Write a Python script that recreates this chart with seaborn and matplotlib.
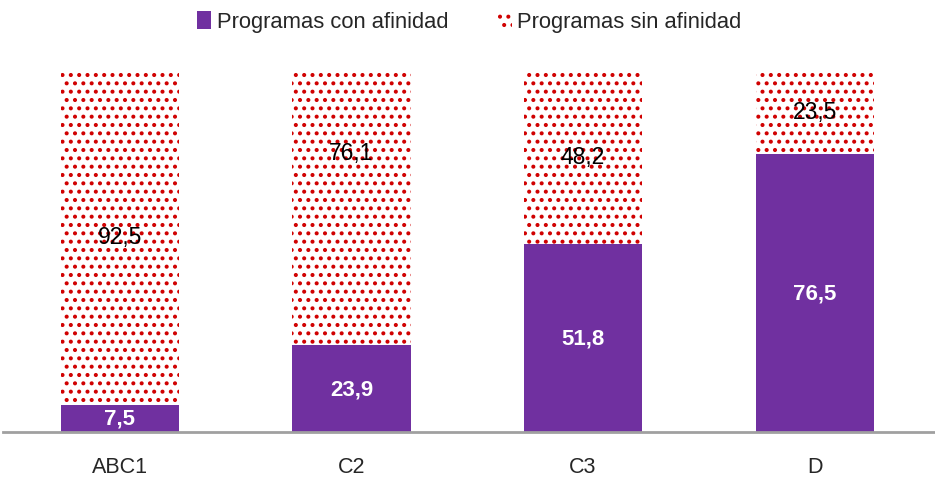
import matplotlib
matplotlib.use("Agg")
import matplotlib.pyplot as plt
from matplotlib.patches import Patch
import pandas as pd
import seaborn as sns

# data
categories = ["ABC1", "C2", "C3", "D"]
con_afinidad = [7.5, 23.9, 51.8, 76.5]
sin_afinidad = [92.5, 76.1, 48.2, 23.5]
labels_con = ["7,5", "23,9", "51,8", "76,5"]
labels_sin = ["92,5", "76,1", "48,2", "23,5"]

purple = "#7030A0"
red = "#D00000"

sns.set_theme(style="white")
plt.rcParams["font.family"] = ["Liberation Sans", "DejaVu Sans"]
plt.rcParams["hatch.linewidth"] = 1.7

df = pd.DataFrame({"cat": categories, "con": con_afinidad, "sin": sin_afinidad})
df["total"] = df["con"] + df["sin"]

fig = plt.figure(figsize=(9.35, 4.81), dpi=100)
ax = fig.add_axes([3 / 935, 48 / 481, 932 / 935, 363 / 481])

# total bar (dotted) first, then the purple part on top of it
sns.barplot(data=df, x="cat", y="total", order=categories, color="white",
            width=0.51, hatch="..", edgecolor=red, linewidth=0,
            saturation=1, ax=ax)
sns.barplot(data=df, x="cat", y="con", order=categories, color=purple,
            width=0.51, linewidth=0, saturation=1, ax=ax)

for i in range(len(categories)):
    c = con_afinidad[i]
    s = sin_afinidad[i]
    ax.text(i, c / 2, labels_con[i], ha="center", va="center",
            color="white", fontsize=16, fontweight="bold")
    y_sin = c + s / 2
    if categories[i] == "C2":
        y_sin += 15  # label sits higher in the original
    ax.text(i, y_sin, labels_sin[i], ha="center", va="center",
            color="black", fontsize=16.5)

ax.set_xlim(-0.505, 3.52)
ax.set_ylim(0, 100)
ax.set_xlabel("")
ax.set_ylabel("")
ax.set_yticks([])
ax.tick_params(axis="x", length=0, pad=17, labelsize=15.5)
for side in ["top", "left", "right"]:
    ax.spines[side].set_visible(False)
ax.spines["bottom"].set_color("#A0A0A0")
ax.spines["bottom"].set_linewidth(2)

handles = [
    Patch(facecolor=purple, edgecolor="none", label="Programas con afinidad"),
    Patch(facecolor="white", edgecolor=red, linewidth=0, hatch="..",
          label="Programas sin afinidad"),
]
fig.legend(handles=handles, loc="upper center", bbox_to_anchor=(0.502, 1.017),
           ncol=2, frameon=False, fontsize=15.8, handlelength=0.64,
           handleheight=0.9, handletextpad=0.25, columnspacing=2.25)

fig.savefig("out.png", dpi=100)
